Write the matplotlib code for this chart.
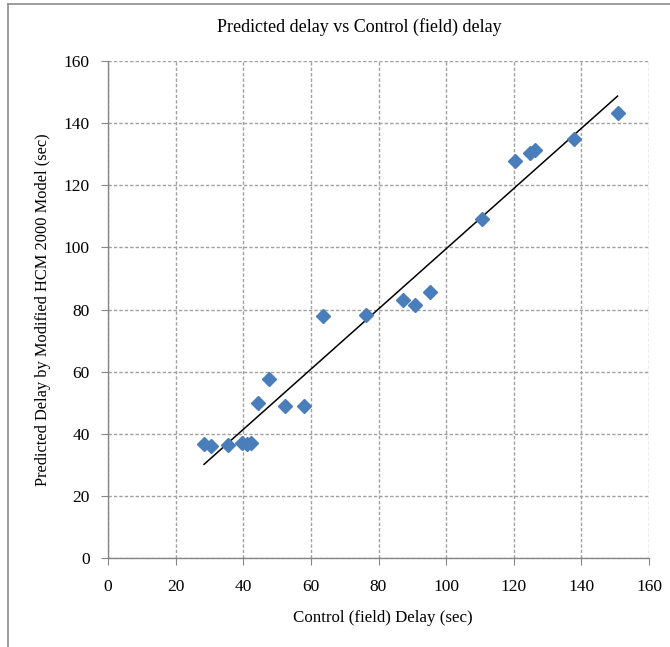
import matplotlib
matplotlib.use("Agg")
import matplotlib.pyplot as plt
from matplotlib.lines import Line2D
import numpy as np

plt.rcParams['font.family'] = ['Liberation Serif', 'DejaVu Serif']

# Control (field) delay vs predicted delay (sec)
control_delay = [28.4, 30.6, 35.6, 39.6, 41.2, 42.3, 44.3, 47.6, 52.2, 57.9, 63.6,
                 76.2, 87.2, 90.8, 95.2, 110.5, 120.5, 124.7, 126.2, 137.7, 150.7]
predicted_delay = [36.6, 36.1, 36.4, 37.1, 36.8, 37.1, 50.0, 57.7, 49.0, 49.0, 77.8,
                   78.1, 83.2, 81.3, 85.7, 109.1, 127.8, 130.4, 131.4, 135.0, 143.2]
ticks = [0, 20, 40, 60, 80, 100, 120, 140, 160]

fig = plt.figure(figsize=(6.7, 6.47), dpi=100)
ax = fig.add_axes([108 / 670, 1 - 558 / 647, 541 / 670, 497 / 647])

x = np.array(control_delay)
y = np.array(predicted_delay)

# linear trend line over the data range
k, b = np.polyfit(x, y, 1)
xs = np.array([x.min(), x.max()])
ax.plot(xs, k * xs + b, color='black', lw=1.1, zorder=3)

ax.plot(x, y, linestyle='none', marker='D', markersize=7.5,
        color='#4a7ebb', markeredgecolor='#4a7ebb', zorder=4)

ax.set_xlim(0, 160)
ax.set_ylim(0, 160)
ax.set_xticks(ticks)
ax.set_yticks(ticks)
ax.grid(True, color='#a0a0a0', linestyle=(0, (2.4, 1.5)), lw=1.0)
ax.set_axisbelow(True)
for s in ['top', 'right']:
    ax.spines[s].set_visible(False)
for s in ['left', 'bottom']:
    ax.spines[s].set_color('#868686')
    ax.spines[s].set_linewidth(1.0)
ax.tick_params(direction='out', length=5, color='#868686', labelsize=12.5, pad=8)
ax.tick_params(axis='x', pad=10)

ax.set_xlabel('Control (field) Delay (sec)', fontsize=12.2)
ax.xaxis.set_label_coords((383 - 108) / 541, -(618 - 558) / 497)
ax.xaxis.label.set_va('center')
ax.set_ylabel('Predicted Delay by Modified HCM 2000 Model (sec)', fontsize=11.8)
ax.yaxis.set_label_coords(-(108 - 43) / 541, 0.5)
ax.yaxis.label.set_va('center')
fig.text(359 / 670, 1 - 27 / 647, 'Predicted delay vs Control (field) delay',
         ha='center', va='center', fontsize=13)

# chart area frame
fig.add_artist(Line2D([8 / 670, 8 / 670], [0, 1 - 4 / 647], transform=fig.transFigure,
                      color='#8c8c8c', lw=1.2))
fig.add_artist(Line2D([8 / 670, 1], [1 - 4 / 647, 1 - 4 / 647], transform=fig.transFigure,
                      color='#8c8c8c', lw=1.2))

fig.savefig('out.png', dpi=100)
